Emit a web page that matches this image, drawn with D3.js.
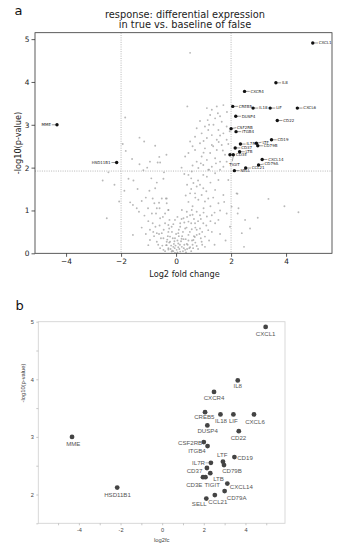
<!DOCTYPE html>
<html><head><meta charset="utf-8">
<script src="https://cdn.jsdelivr.net/npm/d3@7"></script>
<style>html,body{margin:0;padding:0;background:#fff;}svg{display:block;}</style>
</head><body>
<svg id="c" width="342" height="550"></svg>
<script>
// ---------- DATA ----------
const genes = ["CXCL1","IL8","CXCR4","CREB5","IL18","LIF","CXCL6","DUSP4","CD22","CSF2RB","ITGB4","CD19","LTF","CD79B","IL7R","CD37","LTB","CD3E","TIGIT","CXCL14","CD79A","CCL21","SELL","MME","HSD11B1"];
const geneLog2fc = [4.97,3.63,2.49,2.06,2.80,3.42,4.41,2.17,3.68,2.00,2.18,3.47,2.92,2.97,2.34,2.15,2.31,1.96,2.08,3.13,3.00,2.53,2.12,-4.33,-2.16];
const geneNegLog10p = [4.91,3.98,3.78,3.43,3.39,3.39,3.39,3.20,3.10,2.91,2.84,2.65,2.57,2.51,2.55,2.46,2.37,2.30,2.30,2.19,2.06,1.99,1.93,3.00,2.12];
// non-significant genes (log2fc, -log10 p)
const backgroundGenes = [
 [0.51,4.68],[-1.85,3.17],[-1.33,2.70],[-1.16,2.61],[-0.76,2.51],[-1.94,2.55],[-1.83,2.39],[-0.61,2.25],[-0.95,2.14],[-0.67,2.12],[-0.58,2.12],[-1.33,2.08],[-1.19,1.94],[-0.44,1.89],[-2.46,1.89],
 [-2.67,1.70],[-2.24,1.60],[-1.73,1.74],[-1.88,1.46],[-2.07,1.21],[-2.52,0.82],[-1.67,1.19],[-1.57,1.13],[-1.43,1.05],[-1.35,0.97],[-1.15,0.88],[-1.57,0.43],[-0.97,1.46],[-0.76,1.52],[-0.46,1.74],
 [-0.85,1.28],[-0.79,1.17],[-0.52,1.28],[-0.37,1.28],[-0.34,1.17],[-0.70,1.05],[-0.88,0.93],[-0.73,0.93],[-1.01,0.75],[-0.58,0.82],[-0.40,0.93],[-0.28,1.01],[-0.83,0.50],[-0.70,0.47],[-0.52,0.47],
 [-0.95,0.31],[-1.01,0.19],[-0.70,0.27],[-0.46,0.35],[-0.36,0.19],[-0.28,0.12],[-0.58,0.12],[-0.46,0.08],[-0.34,0.27],[-0.22,0.39],[-0.28,0.66],[-0.24,0.78],[-0.25,0.58],[-0.40,0.70],
 [0.41,3.43],[1.12,3.39],[1.30,3.35],[1.48,3.43],[1.72,3.46],[1.52,3.27],[1.24,3.23],[1.42,3.15],[0.87,3.09],[1.15,3.11],[1.36,3.00],[1.66,3.07],[1.84,2.96],[1.05,2.96],[0.75,2.92],[1.17,2.88],
 [1.54,2.88],[0.93,2.80],[1.30,2.76],[1.72,2.80],[0.69,2.72],[1.12,2.69],[1.48,2.65],[1.84,2.65],[0.51,2.61],[0.87,2.57],[1.30,2.53],[1.66,2.53],[1.05,2.45],[1.48,2.41],[0.69,2.41],[0.45,2.34],
 [1.24,2.34],[0.93,2.26],[1.78,2.30],[0.33,2.26],[1.12,2.18],[1.42,2.22],[0.75,2.14],[1.60,2.14],[0.99,2.06],[1.30,2.02],[0.81,1.99],[1.72,2.02],[1.17,1.95],[1.84,2.14],[1.60,1.95],[0.57,1.91],
 [0.45,1.83],[0.55,1.75],[0.99,1.83],[1.12,1.79],[1.42,1.87],[1.54,1.71],[1.90,1.71],[0.63,1.64],[0.75,1.56],[0.87,1.60],[0.99,1.52],[0.51,1.40],[0.69,1.40],[0.93,1.36],[1.42,1.48],[1.72,1.36],
 [0.81,1.25],[1.05,1.21],[1.17,1.28],[1.54,1.17],[-0.34,1.28],[-0.28,1.01],[0.21,1.01],[0.39,0.97],[0.57,1.01],[0.75,0.97],[0.51,0.89],[0.87,0.89],[1.12,0.86],[1.30,0.89],[1.84,0.93],[0.27,0.82],
 [-0.04,0.78],[0.15,0.70],[0.45,0.74],[0.69,0.70],[0.99,0.70],[1.42,0.70],[-0.16,0.62],[0.33,0.58],[0.57,0.56],[0.87,0.58],[1.17,0.54],[-0.28,0.50],[0.08,0.47],[0.45,0.43],[0.75,0.43],[1.05,0.39],
 [-0.04,0.35],[0.27,0.33],[0.63,0.31],[0.93,0.27],[-0.22,0.27],[0.08,0.23],[0.39,0.22],[-0.34,0.19],[-0.10,0.15],[0.21,0.15],[0.51,0.14],[0.75,0.17],[-0.28,0.09],[0.02,0.08],[0.33,0.08],[-0.16,0.04],
 [0.15,0.04],[-0.04,0.01],[1.05,0.15],[1.30,0.50],[1.54,0.78],[1.96,0.62],[2.02,1.09],[2.20,1.40],[2.24,0.93],
 [3.36,1.27],[3.94,1.10],[4.45,0.96],[2.97,0.83],[2.23,1.39],[2.47,0.15],[2.39,0.47],[2.69,0.58],[2.27,1.05],[2.51,0.78],
 [-0.10,0.05],[0.05,0.02],[0.12,0.10],[-0.05,0.12],[0.25,0.05],[0.30,0.20],[-0.20,0.10],[0.18,0.28],[0.40,0.10],[-0.12,0.35],[0.00,0.45],[0.10,0.55],[-0.30,0.40],[0.22,0.40],[0.35,0.33],
 [-0.08,0.22],[0.05,0.30],[0.45,0.30],[0.60,0.20],[0.55,0.05],[-0.40,0.05],[-0.25,0.25],[0.15,0.62],[0.30,0.72],[-0.10,0.68],[-0.15,0.50],[0.50,0.50],[0.65,0.40],[0.70,0.60],[0.85,0.45],
 [0.60,0.90],[0.80,0.75],[-0.45,0.55],[-0.55,0.35],[-0.60,0.65],[0.45,1.20],[0.60,1.10],[0.70,1.30],[1.00,1.05],[1.25,1.10],[1.35,1.30],[1.60,1.00],[1.75,1.20],[1.10,1.45],[1.25,1.65],
 [0.40,1.60],[0.30,1.85],[0.60,2.05],[1.00,2.35],[0.20,2.00],[1.55,2.60],[1.70,2.40],[1.90,2.55],[1.95,2.85],[1.60,3.20],[-0.90,1.75],[-1.10,1.30],[-0.60,1.05],[-1.25,0.60],[-0.85,0.70],
 [0.95,0.20],[0.80,0.10],[1.20,0.30],[0.70,0.25],[-0.65,0.20],[-0.80,0.40],[1.60,0.45],[1.40,0.20],[1.80,0.30],[0.05,0.85],
 [-0.02,0.18],[0.08,0.14],[0.14,0.20],[0.28,0.12],[0.36,0.02],[-0.18,0.18],[-0.06,0.28],[0.20,0.34],[0.10,0.40],[0.42,0.20],[0.48,0.12],[0.58,0.30],[-0.32,0.32],[-0.14,0.06],[0.62,0.12],
 [0.68,0.38],[0.90,0.35],[0.25,0.50],[0.38,0.60],[0.20,0.80],[0.40,0.85],[0.55,0.70],[0.75,0.55],[0.95,0.50],[1.10,0.65],[1.25,0.75],[1.40,0.95],[0.65,0.80],[0.90,0.80],[1.00,0.95],
 [-0.50,0.18],[-0.62,0.45],[-0.75,0.62],[-0.95,0.55],[-1.10,0.45],[-0.48,0.85],[-0.62,1.18],[-1.02,1.05],[-1.25,1.22],[-1.40,1.50],[-1.55,1.70],[-0.70,1.65],[-1.05,2.00],[-0.35,2.30],[-1.60,2.20],
 [0.35,1.35],[0.55,1.50],[0.80,1.70],[1.20,1.95],[1.45,2.10],[0.90,2.10],[1.35,2.50],[1.00,2.62],[0.60,2.50],[1.60,2.75],[1.85,3.30],[1.20,3.00]
];
const topXTicks = [-4,-2,0,2,4];
const topYTicks = [0,1,2,3,4,5];
const botXTicks = [-5,-4,-3,-2,-1,0,1,2,3,4,5];
const botXLabels = [-4,-2,0,2,4];
const botYTicks = [1.5,2,2.5,3,3.5,4,4.5,5];
const botYLabels = [2,3,4,5];
const foldThreshold = [-2,2];
const pThreshold = 1.92;

// ---------- LAYOUT ----------
const svg = d3.select("#c");
const minus = d => (d < 0 ? "\u2212" + Math.abs(d) : String(d));
const DJ = "DejaVu Sans, sans-serif";
const LS = "Liberation Sans, Arial, sans-serif";

// label nudges (pixels) for panel a
const topNudge = {MME:{dx:-6,dy:0,a:"end"}, HSD11B1:{dx:-6,dy:0,a:"end"}, TIGIT:{dx:-4,dy:10,a:"start",down:true}, CSF2RB:{dx:6,dy:-1,a:"start"}, LTF:{dx:6,dy:-1,a:"start"}, CD79A:{dx:6,dy:-1,a:"start"}};
// label nudges (pixels, label centre relative to point) for panel b
const botNudge = {CXCL1:[0,7],IL8:[0,5.5],CXCR4:[0,5.7],CREB5:[-0.7,5.2],IL18:[0.6,6.4],LIF:[0,6.4],CXCL6:[1,7],DUSP4:[0.3,6],CD22:[-0.3,6.7],
 CSF2RB:[-13.7,0.6],ITGB4:[-10.6,5],LTF:[-0.7,-6.7],CD19:[10.6,0.7],IL7R:[-12.4,0],CD37:[-12.4,3.3],CD79B:[8,6],LTB:[8.3,6],CD3E:[-8.7,8],
 TIGIT:[6.7,8],CXCL14:[14,3.7],CD79A:[12,6.6],CCL21:[3,6.7],SELL:[-7,5.7],MME:[1.3,7.3],HSD11B1:[0.3,7.4]};

// ================= PANEL A =================
const A = {l:35, r:332, t:32.7, b:253.3};
const xA = d3.scaleLinear([-5.13,5.67],[A.l,A.r]);
const yA = d3.scaleLinear([0,5.15],[A.b,A.t]);

svg.append("text").attr("x",14.5).attr("y",14.5).attr("font-family",DJ).attr("font-size",13).attr("fill","#111").text("a");
svg.append("text").attr("x",(A.l+A.r)/2+1.5).attr("y",17.6).attr("text-anchor","middle").attr("font-family",DJ).attr("font-size",9.8).attr("fill","#222").text("response: differential expression");
svg.append("text").attr("x",(A.l+A.r)/2+1.5).attr("y",28.2).attr("text-anchor","middle").attr("font-family",DJ).attr("font-size",9.8).attr("fill","#222").text("in true vs. baseline of false");

svg.append("defs").append("clipPath").attr("id","clipA").append("rect")
  .attr("x",A.l).attr("y",A.t).attr("width",A.r-A.l).attr("height",A.b-A.t);

const gA = svg.append("g");
// threshold lines
gA.selectAll("line.vt").data(foldThreshold).join("line")
  .attr("x1",d=>xA(d)).attr("x2",d=>xA(d)).attr("y1",A.t).attr("y2",A.b)
  .attr("stroke","#9a9a9a").attr("stroke-width",0.7).attr("stroke-dasharray","1,1.3");
gA.append("line").attr("x1",A.l).attr("x2",A.r).attr("y1",yA(pThreshold)).attr("y2",yA(pThreshold))
  .attr("stroke","#9a9a9a").attr("stroke-width",0.7).attr("stroke-dasharray","1,1.3");

// background points
gA.append("g").attr("clip-path","url(#clipA)").selectAll("circle").data(backgroundGenes).join("circle")
  .attr("cx",d=>xA(d[0])).attr("cy",d=>yA(d[1])).attr("r",0.95)
  .attr("fill","#a0a0a0").attr("fill-opacity",0.75);

// significant genes
const sig = genes.map((g,i)=>({g, x:geneLog2fc[i], y:geneNegLog10p[i]}));
const labA = gA.append("g").attr("clip-path","url(#clipA)");
sig.forEach(d=>{
  const px = xA(d.x), py = yA(d.y);
  const n = topNudge[d.g] || {dx:6,dy:0,a:"start"};
  if (n.down) {
    labA.append("line").attr("x1",px).attr("y1",py+1.5).attr("x2",px-1).attr("y2",py+n.dy-3.5).attr("stroke","#222").attr("stroke-width",0.4);
  } else {
    const ex = px + (n.dx>0 ? n.dx-0.8 : n.dx+0.8);
    labA.append("line").attr("x1",px).attr("y1",py).attr("x2",ex).attr("y2",py+n.dy).attr("stroke","#222").attr("stroke-width",0.45);
  }
  labA.append("text").attr("x",px+n.dx).attr("y",py+n.dy+1.4).attr("text-anchor",n.a)
    .attr("font-family",DJ).attr("font-size",4).attr("fill","#222").text(d.g);
});
gA.append("g").selectAll("circle").data(sig).join("circle")
  .attr("cx",d=>xA(d.x)).attr("cy",d=>yA(d.y)).attr("r",1.7).attr("fill","#111");

// frame
gA.append("rect").attr("x",A.l).attr("y",A.t).attr("width",A.r-A.l).attr("height",A.b-A.t)
  .attr("fill","none").attr("stroke","#333").attr("stroke-width",0.8);

// axes
const axA = gA.append("g").attr("transform",`translate(0,${A.b})`)
  .call(d3.axisBottom(xA).tickValues(topXTicks).tickSize(3.5).tickPadding(2).tickFormat(minus));
const ayA = gA.append("g").attr("transform",`translate(${A.l},0)`)
  .call(d3.axisLeft(yA).tickValues(topYTicks).tickSize(3.5).tickPadding(2).tickFormat(minus));
[axA,ayA].forEach(a=>{
  a.select(".domain").remove();
  a.selectAll("line").attr("stroke","#333").attr("stroke-width",0.8);
  a.selectAll("text").attr("font-family",DJ).attr("font-size",7.4).attr("fill","#222");
});
svg.append("text").attr("x",(A.l+A.r)/2+1).attr("y",277.3).attr("text-anchor","middle").attr("font-family",DJ).attr("font-size",8.2).attr("fill","#222").text("Log2 fold change");
svg.append("text").attr("transform",`translate(20.5,${(A.t+A.b)/2}) rotate(-90)`).attr("text-anchor","middle").attr("font-family",DJ).attr("font-size",8.2).attr("fill","#222").text("-log10(p-value)");

// ================= PANEL B =================
const B = {l:38.3, r:285, t:321.7, b:523.3};
const xB = d3.scaleLinear([-5.95,5.9],[B.l,B.r]);
const yB = d3.scaleLinear([1.5,5],[B.b,B.t]);

svg.append("text").attr("x",15.5).attr("y",310).attr("font-family",DJ).attr("font-size",13).attr("fill","#111").text("b");

const gB = svg.append("g");
gB.append("rect").attr("x",B.l).attr("y",B.t).attr("width",B.r-B.l).attr("height",B.b-B.t)
  .attr("fill","none").attr("stroke","#d4d4d4").attr("stroke-width",0.9);

const axB = gB.append("g").attr("transform",`translate(0,${B.b})`)
  .call(d3.axisBottom(xB).tickValues(botXTicks).tickSize(2).tickPadding(2.5).tickFormat(d=>botXLabels.includes(d)?String(d):""));
const ayB = gB.append("g").attr("transform",`translate(${B.l},0)`)
  .call(d3.axisLeft(yB).tickValues(botYTicks).tickSize(2).tickPadding(2.5).tickFormat(d=>botYLabels.includes(d)?String(d):""));
[axB,ayB].forEach(a=>{
  a.select(".domain").remove();
  a.selectAll("line").attr("stroke","#b0b0b0").attr("stroke-width",0.7);
  a.selectAll("text").attr("font-family",LS).attr("font-size",5.6).attr("fill","#444");
});
svg.append("text").attr("x",161.7).attr("y",542).attr("text-anchor","middle").attr("font-family",LS).attr("font-size",5.8).attr("fill","#444").text("log2fc");
svg.append("text").attr("transform",`translate(24.5,383) rotate(-90)`).attr("text-anchor","middle").attr("font-family",LS).attr("font-size",5.8).attr("fill","#444").text("-log10(p-value)");

// IL7R leader
const il7 = sig.find(d=>d.g==="IL7R");
gB.append("line").attr("x1",xB(il7.x)+botNudge.IL7R[0]+7).attr("x2",xB(il7.x)-2.4).attr("y1",yB(il7.y)).attr("y2",yB(il7.y))
  .attr("stroke","#777").attr("stroke-width",0.5);

gB.append("g").selectAll("circle").data(sig).join("circle")
  .attr("cx",d=>xB(d.x)).attr("cy",d=>yB(d.y)).attr("r",2.4).attr("fill","#444");
gB.append("g").selectAll("text").data(sig).join("text")
  .attr("x",d=>xB(d.x)+botNudge[d.g][0]).attr("y",d=>yB(d.y)+botNudge[d.g][1]+2.1)
  .attr("text-anchor","middle").attr("font-family",LS).attr("font-size",6.1).attr("fill","#555").text(d=>d.g);
</script>
</body></html>
